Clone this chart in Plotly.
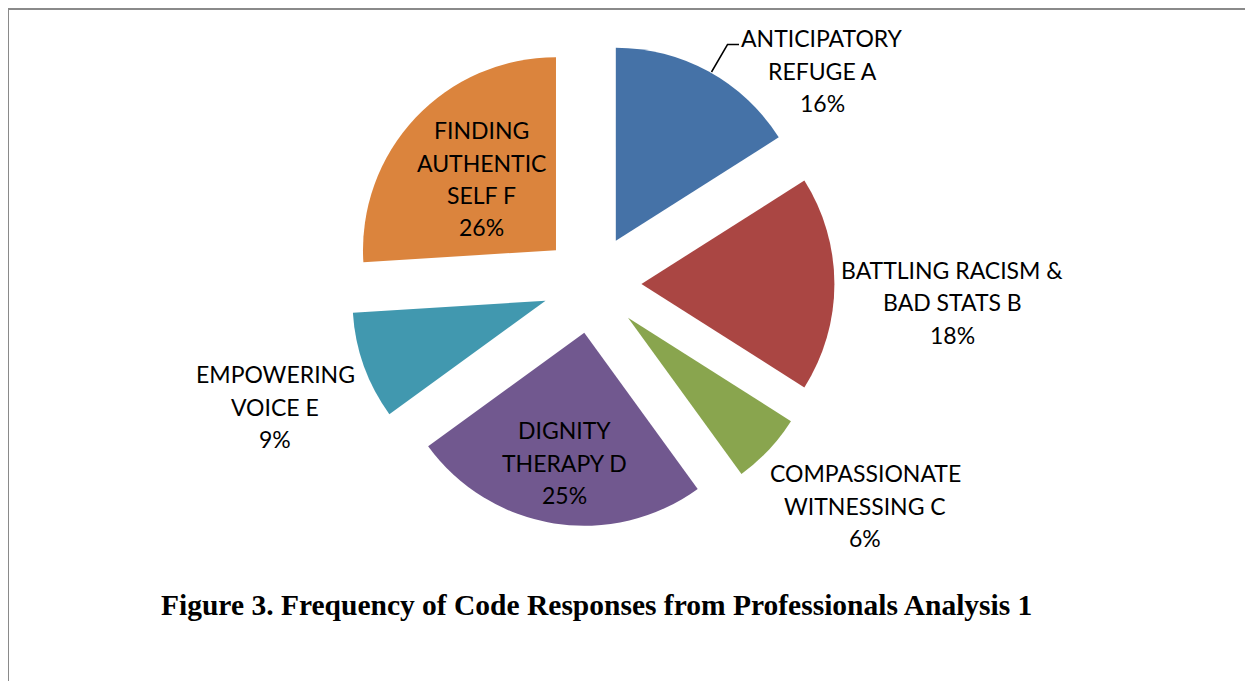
import plotly.graph_objects as go

# ---- data ----
codes = ["ANTICIPATORY REFUGE A", "BATTLING RACISM & BAD STATS B", "COMPASSIONATE WITNESSING C",
         "DIGNITY THERAPY D", "EMPOWERING VOICE E", "FINDING AUTHENTIC SELF F"]
label_lines = [["ANTICIPATORY", "REFUGE A"],
               ["BATTLING RACISM &", "BAD STATS B"],
               ["COMPASSIONATE", "WITNESSING C"],
               ["DIGNITY", "THERAPY D"],
               ["EMPOWERING", "VOICE E"],
               ["FINDING", "AUTHENTIC", "SELF F"]]
percents = [16, 18, 6, 25, 9, 26]
colors = ["#4572A7", "#AA4643", "#89A54E", "#71588F", "#4198AF", "#DB843D"]
title_text = "Figure 3. Frequency of Code Responses from Professionals Analysis 1"

W, H = 1253, 681
OFF = 8  # page body margin offset

# label block anchor (centre x, first-line y) in page pixels
label_pos = [(822, 38), (952, 270), (865, 473), (564, 430), (275, 374), (481, 130)]
line_gap = 32.5

def px(x):
    return (x - OFF) / W

def py(y):
    return 1 - (y - OFF) / H

cx, r, pull = 592, 193, 0.256
half = r * (1 + pull)
cy = 284

fig = go.Figure(go.Pie(
    labels=codes,
    values=percents,
    sort=False,
    direction="clockwise",
    rotation=0,
    pull=[pull] * len(percents),
    marker=dict(colors=colors, line=dict(width=0)),
    textinfo="none",
    hoverinfo="label+percent",
    showlegend=False,
    domain=dict(x=[px(cx - half - 100), px(cx + half + 100)],
                y=[py(cy + half), py(cy - half)]),
))

annotations = []
for lines, pct, (lx, ly) in zip(label_lines, percents, label_pos):
    all_lines = lines + [f"{pct}%"]
    for i, t in enumerate(all_lines):
        annotations.append(dict(
            x=px(lx), y=py(ly + i * line_gap), xref="paper", yref="paper",
            text=t, showarrow=False, xanchor="center", yanchor="middle",
            font=dict(family="Lato", size=23, color="#000000"),
        ))

annotations.append(dict(
    x=px(596.5), y=py(605), xref="paper", yref="paper", text=f"<b>{title_text}</b>",
    showarrow=False, xanchor="center", yanchor="middle",
    font=dict(family="Liberation Serif", size=29.5, color="#000000"),
))

shapes = [
    # outer frame (top and left edges visible)
    dict(type="rect", xref="paper", yref="paper", x0=px(8), x1=px(W + 30),
         y0=py(H + 30), y1=py(9), line=dict(color="#8a8a8a", width=2)),
    # leader line for slice A
    dict(type="path", xref="paper", yref="paper",
         path=f"M {px(711.5)} {py(72)} L {px(727.5)} {py(44.5)} L {px(739)} {py(44.5)}",
         line=dict(color="#000000", width=1.5)),
]

fig.update_layout(
    width=W, height=H,
    margin=dict(l=0, r=0, t=0, b=0),
    paper_bgcolor="#ffffff",
    plot_bgcolor="#ffffff",
    annotations=annotations,
    shapes=shapes,
)

fig.write_html("out.html")
